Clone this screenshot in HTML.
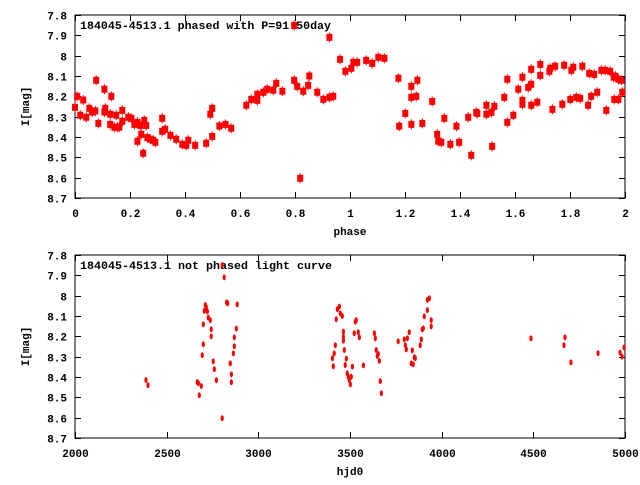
<!DOCTYPE html>
<html><head><meta charset="utf-8"><style>
body{margin:0;background:#fff}
svg text{font-family:"Liberation Mono",monospace;font-size:11px;font-weight:bold;fill:#000}
</style></head><body>
<svg id="chart" width="640" height="480" xmlns="http://www.w3.org/2000/svg"></svg>
<script>
const phaseX=[0.00,0.008,0.019,0.030,0.041,0.052,0.063,0.074,0.077,0.085,0.107,0.107,0.110,0.128,0.132,0.128,0.143,0.150,0.154,0.161,0.172,0.172,0.194,0.205,0.216,0.227,0.227,0.237,0.241,0.248,0.252,0.259,0.263,0.274,0.285,0.292,0.317,0.317,0.328,0.347,0.368,0.390,0.405,0.412,0.437,0.477,0.492,0.499,0.499,0.525,0.547,0.568,0.623,0.641,0.663,0.663,0.685,0.699,0.721,0.732,0.754,0.797,0.797,0.808,0.819,0.830,0.848,0.852,0.881,0.903,0.925,0.925,0.939,
0.964,0.983,1.005,1.012,1.026,1.059,1.081,1.103,1.125,1.176,1.179,1.201,1.223,1.223,1.223,1.241,1.245,1.263,1.299,1.317,1.321,1.332,1.343,1.365,1.387,1.397,1.43,1.441,1.459,1.463,1.496,1.496,1.514,1.517,1.525,1.561,1.572,1.572,1.594,1.612,1.627,1.627,1.627,1.648,1.659,1.659,1.659,1.681,1.692,1.692,1.725,1.728,1.736,1.746,1.772,1.779,1.801,1.805,1.812,1.823,1.837,1.845,1.866,1.870,1.877,1.888,1.899,1.914,1.928,1.932,1.946,1.959,1.961,1.965,1.976,1.976,1.987,1.99];
const phaseMag=[8.254,8.20,8.293,8.218,8.303,8.259,8.277,8.272,8.121,8.333,8.165,8.277,8.259,8.288,8.20,8.338,8.352,8.293,8.352,8.352,8.269,8.323,8.303,8.308,8.338,8.421,8.328,8.343,8.387,8.480,8.318,8.343,8.403,8.411,8.416,8.426,8.308,8.372,8.362,8.392,8.411,8.436,8.441,8.416,8.441,8.431,8.288,8.259,8.397,8.346,8.338,8.357,8.244,8.215,8.19,8.22,8.18,8.165,8.17,8.136,8.175,8.121,7.851,8.151,8.603,8.175,8.146,8.10,8.18,8.215,7.91,8.205,8.20,
8.018,8.077,8.062,8.033,8.033,8.023,8.038,8.008,8.013,8.111,8.347,8.284,8.151,8.205,8.338,8.20,8.121,8.333,8.225,8.387,8.421,8.426,8.308,8.436,8.347,8.426,8.303,8.49,8.279,8.284,8.244,8.288,8.279,8.446,8.249,8.205,8.116,8.328,8.293,8.165,8.106,8.22,8.239,8.156,8.141,8.067,8.244,8.229,8.043,8.097,8.077,8.062,8.264,8.052,8.239,8.047,8.215,8.072,8.057,8.205,8.210,8.052,8.244,8.087,8.20,8.092,8.18,8.072,8.072,8.269,8.077,8.106,8.215,8.101,8.116,8.215,8.121,8.18];
const hjd=[2387,2398,2667,2673,2689,2678,2694,2700,2700,2705,2711,2716,2722,2727,2738,2743,2743,2754,2760,2771,2803,2803,2814,2827,2833,2847,2853,2853,2864,2869,2869,2880,2885,3409,3404,3414,3420,3425,3431,3442,3447,3458,3464,3464,3464,3469,3474,3480,3485,3491,3496,3502,3507,3513,3523,3529,3534,3545,3551,3573,3633,3638,3643,3649,3654,3660,3665,3671,3763,3796,3802,3807,3813,3823,3834,3840,3845,3851,3856,3883,3889,3894,3900,3905,3922,3922,3933,3943,3943,4487,4673,4667,4705,4853,4973,4984,4995];
const hjdMag=[8.415,8.44,8.425,8.431,8.444,8.49,8.293,8.239,8.141,8.075,8.046,8.057,8.077,8.108,8.121,8.166,8.2,8.323,8.362,8.416,8.603,7.849,7.91,8.033,8.038,8.333,8.387,8.426,8.284,8.249,8.205,8.162,8.043,8.347,8.308,8.284,8.244,8.116,8.067,8.054,8.087,8.1,8.177,8.202,8.221,8.267,8.341,8.31,8.382,8.399,8.415,8.436,8.399,8.349,8.185,8.128,8.12,8.18,8.205,8.343,8.185,8.21,8.267,8.297,8.287,8.321,8.42,8.48,8.225,8.215,8.244,8.264,8.21,8.18,8.333,8.269,8.338,8.303,8.308,8.244,8.215,8.166,8.161,8.102,8.071,8.021,8.013,8.12,8.151,8.21,8.205,8.244,8.328,8.283,8.28,8.3,8.255];
const magTicks=[7.8,7.9,8,8.1,8.2,8.3,8.4,8.5,8.6,8.7];
const phaseTicks=[0,0.2,0.4,0.6,0.8,1,1.2,1.4,1.6,1.8,2];
const hjdTicks=[2000,2500,3000,3500,4000,4500,5000];
const NS="http://www.w3.org/2000/svg";
const svg=document.getElementById('chart');
function mk(tag,attrs,parent){const e=document.createElementNS(NS,tag);for(const k in attrs)e.setAttribute(k,attrs[k]);(parent||svg).appendChild(e);return e;}
function panel(o){
  const L=75,R=625,T=o.top,B=o.top+183;
  const g=mk('g',{});
  
  
  const sx=v=>L+(v-o.xmin)/(o.xmax-o.xmin)*(R-L);
  const sy=v=>T+(v-7.8)/0.9*(B-T);
  const fr=mk('rect',{x:L,y:T,width:R-L,height:B-T,fill:'none',stroke:'#000','stroke-width':1},g);
  
  
  magTicks.forEach(t=>{const y=Math.round(sy(t))+0.5;
    mk('line',{x1:L,x2:L+6,y1:y,y2:y,stroke:'#000'},g);mk('line',{x1:R-6,x2:R,y1:y,y2:y,stroke:'#000'},g);
    const tx=mk('text',{x:67,y:y+4,'text-anchor':'end'},g);tx.textContent=String(t);
    
    });
  o.ticks.forEach(t=>{const x=Math.round(sx(t))+0.5;
    mk('line',{x1:x,x2:x,y1:B,y2:B-6,stroke:'#000'},g);mk('line',{x1:x,x2:x,y1:T,y2:T+6,stroke:'#000'},g);
    const tx=mk('text',{x:x,y:B+19,'text-anchor':'middle'},g);tx.textContent=String(t);
    
    });
  const xt=mk('text',{x:(L+R)/2,y:B+37,'text-anchor':'middle'},g);xt.textContent=o.xlabel;
  
  
  const yt=mk('text',{x:0,y:0,'text-anchor':'middle',transform:`translate(29,${(T+B)/2}) rotate(-90)`},g);yt.textContent='I[mag]';
  
  
  const ti=mk('text',{x:80,y:T+14,textLength:o.tlen,lengthAdjust:'spacingAndGlyphs'},g);ti.textContent=o.title;
  
  
  o.xs.forEach((v,i)=>{const x=sx(v),y=sy(o.ys[i]);
    let m;
    if(o.sq){m=mk('rect',{x:x-3,y:y-3.5,width:6,height:7,fill:'#f00'},g);mk('line',{x1:x,x2:x,y1:y-5,y2:y+5,stroke:'#f00'},g);}
    else m=mk('ellipse',{cx:x,cy:y,rx:1.6,ry:3,fill:'#f00'},g);
    
    });
}
panel({name:'phased-panel',top:15,xmin:0,xmax:2,ticks:phaseTicks,xlabel:'phase',title:'184045-4513.1 phased with P=91.50day',tlen:251,xs:phaseX,ys:phaseMag,sq:true});
panel({name:'unphased-panel',top:255,xmin:2000,xmax:5000,ticks:hjdTicks,xlabel:'hjd0',title:'184045-4513.1 not phased light curve',tlen:252,xs:hjd,ys:hjdMag,sq:false});
</script>
</body></html>
